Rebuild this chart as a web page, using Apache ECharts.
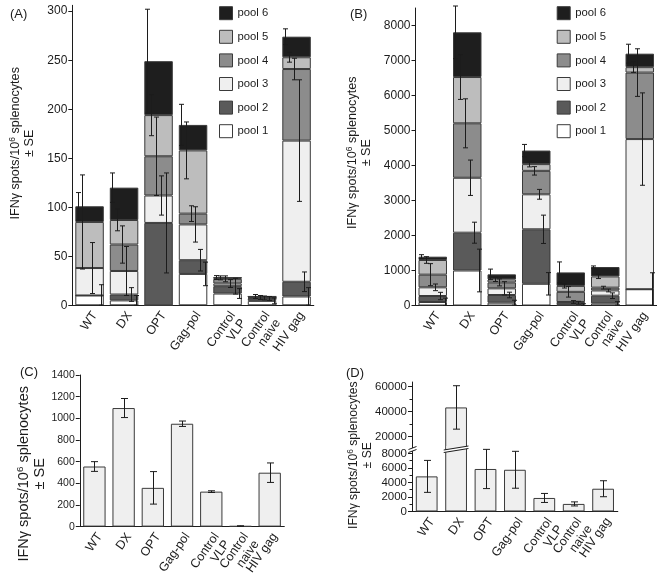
<!DOCTYPE html>
<html><head><meta charset="utf-8">
<script src="https://cdn.jsdelivr.net/npm/echarts@6/dist/echarts.min.js"></script>
<style>html,body{margin:0;padding:0;background:#fff}#c{width:657px;height:581px}</style>
</head><body><div id="c"></div>
<script>
// ---------- data ----------
const categories = ['WT', 'DX', 'OPT', 'Gag-pol', 'Control\nVLP', 'Control\nnaive', 'HIV gag'];
const poolNames = ['pool 1', 'pool 2', 'pool 3', 'pool 4', 'pool 5', 'pool 6'];

// Panel A: stacked pools (spots / 10^6 splenocytes)
const aPool1 = [10, 5, 0, 32, 12, 4.5, 9];
const aPool2 = [0, 6, 84, 14, 7.5, 2.5, 15];
const aPool3 = [28, 24, 28, 36.5, 2.7, 0.5, 144];
const aPool4 = [0, 27, 40, 11, 4.8, 0.5, 73];
const aPool5 = [47, 25, 42, 64.5, 1, 1, 12];
const aPool6 = [16, 33, 55, 26, 0.3, 0, 21];
const aErr1 = [11, 5, 0, 12, 5, 3, 9];
const aErr2 = [0, 7, 51, 11, 8, 2, 10];
const aErr3 = [26, 25, 20, 18, 4, 2, 62];
const aErr4 = [0, 19, 40, 8, 3, 2, 11];
const aErr5 = [48, 11, 21, 29, 2, 2, 5];
const aErr6 = [14, 15, 53, 21, 2, 1, 8];

// Panel B: stacked pools
const bPool1 = [100, 1000, 80, 620, 20, 60, 465];
const bPool2 = [171, 1080, 220, 1557, 60, 220, 0];
const bPool3 = [248, 1570, 190, 1000, 20, 150, 4290];
const bPool4 = [362, 1555, 170, 670, 290, 80, 1900];
const bPool5 = [419, 1323, 85, 193, 170, 320, 155];
const bPool6 = [95, 1277, 145, 387, 385, 270, 385];
const bErr1 = [110, 610, 70, 320, 30, 50, 470];
const bErr2 = [105, 300, 80, 405, 40, 80, 0];
const bErr3 = [95, 505, 190, 140, 40, 40, 1320];
const bErr4 = [315, 700, 100, 120, 150, 40, 680];
const bErr5 = [95, 640, 60, 80, 60, 60, 150];
const bErr6 = [57, 752, 150, 175, 300, 30, 270];

// Panel C
const cValues = [555, 1095, 358, 950, 323, 5, 498];
const cErrors = [45, 88, 150, 25, 8, 3, 90];

// Panel D
const dValues = [4830, 43300, 5850, 5740, 1860, 1040, 3130];
const dErrors = [2200, 17500, 2700, 2540, 620, 280, 1100];

// tick labels
const aTicks = [0, 50, 100, 150, 200, 250, 300];
const bTicks = [0, 1000, 2000, 3000, 4000, 5000, 6000, 7000, 8000];
const dLowTicks = [0, 2000, 4000, 6000, 8000];
const dLowMinor = [1000, 3000, 5000, 7000];
const dHighTicks = [20000, 40000, 60000];
const dHighMinor = [30000, 50000];

// ---------- styles ----------
const FONT = '"Liberation Sans", Arial, Helvetica, sans-serif';
const INK = '#1c1c1c';
const EDGE = '#3a3a3a';
const poolColors = ['#ffffff', '#5a5a5a', '#efefef', '#8c8c8c', '#bdbdbd', '#1e1e1e'];
const LIGHT = '#efefef';
const AB_GAP = 0.174, C_GAP = 0.236, D_GAP = 0.26;
const D_LOW_MAX = 8600, D_HIGH_MIN = 9800, D_HIGH_MAX = 63800;

const chart = echarts.init(document.getElementById('c'), null, {renderer: 'canvas'});

function yName(fs, lh, gap, padding) {
  return {
    name: '{n|IFNγ spots/10}{s|6}{n| splenocytes}\n{n|± SE}',
    nameLocation: 'middle',
    nameRotate: 90,
    nameGap: gap,
    nameTextStyle: {
      color: INK, fontFamily: FONT, fontSize: fs, lineHeight: lh, padding: padding,
      rich: {
        n: {fontSize: fs, fontFamily: FONT, color: INK, lineHeight: lh},
        s: {fontSize: fs * 0.68, fontFamily: FONT, color: INK, lineHeight: fs * 0.75, verticalAlign: 'top'}
      }
    }
  };
}
const plain = v => String(v);
function valAxis(gridIndex, min, max, ticks, labelSize, extra) {
  return Object.assign({
    type: 'value', gridIndex, min, max,
    axisLine: {show: true, lineStyle: {color: INK, width: 1}},
    axisTick: {show: true, length: 4, lineStyle: {color: INK}, customValues: ticks},
    axisLabel: {color: INK, fontFamily: FONT, fontSize: labelSize, margin: 5, customValues: ticks, formatter: plain},
    splitLine: {show: false}
  }, extra || {});
}
function catAxis(gridIndex) {
  return {
    type: 'category', gridIndex, data: categories,
    axisLine: {show: true, lineStyle: {color: INK, width: 1}},
    axisTick: {show: false},
    axisLabel: {rotate: 55, interval: 0, color: INK, fontFamily: FONT, fontSize: 12.5, lineHeight: 13,
      margin: 4, verticalAlign: 'top'}
  };
}

// stacked bars
function stackSeries(pools, stack, axisIndex) {
  return pools.map((arr, k) => ({
    type: 'bar', name: poolNames[k], stack, xAxisIndex: axisIndex, yAxisIndex: axisIndex,
    data: arr, barCategoryGap: (AB_GAP * 100) + '%',
    itemStyle: {color: poolColors[k], borderColor: EDGE, borderWidth: 1},
    emphasis: {disabled: true}, silent: true, animation: false
  }));
}
function stackErrData(pools, errs) {
  const out = [];
  categories.forEach((c, i) => {
    let cum = 0;
    pools.forEach((arr, k) => {
      cum += arr[i];
      if (arr[i] > 0 && errs[k][i] > 0) out.push([i, k, cum, errs[k][i]]);
    });
  });
  return out;
}
function ln(x1, y1, x2, y2, color, w) {
  return {type: 'line', shape: {x1, y1, x2, y2}, style: {stroke: color || INK, lineWidth: w || 1}};
}
function stackErrRender(params, api) {
  const cat = api.value(0), k = api.value(1), top = api.value(2), err = api.value(3);
  const band = api.size([1, 0])[0];
  const barW = band * (1 - AB_GAP);
  const off = (2.5 - k) * barW / 6;
  const x = Math.round(api.coord([cat, top])[0] + off) + 0.5;
  const yHi = api.coord([cat, top + err])[1];
  const yLo = api.coord([cat, Math.max(0, top - err)])[1];
  const cap = 2.5;
  return {type: 'group', children: [
    ln(x, yHi, x, yLo), ln(x - cap, yHi, x + cap, yHi), ln(x - cap, yLo, x + cap, yLo)
  ]};
}
function simpleErrRender(params, api) {
  const cat = api.value(0), v = api.value(1), err = api.value(2);
  const x = Math.round(api.coord([cat, v])[0]) + 0.5;
  const yHi = api.coord([cat, v + err])[1];
  const yLo = api.coord([cat, Math.max(0, v - err)])[1];
  const cap = 3.5;
  return {type: 'group', children: [
    ln(x, yHi, x, yLo), ln(x - cap, yHi, x + cap, yHi), ln(x - cap, yLo, x + cap, yLo)
  ]};
}

const aPools = [aPool1, aPool2, aPool3, aPool4, aPool5, aPool6];
const aErrs = [aErr1, aErr2, aErr3, aErr4, aErr5, aErr6];
const bPools = [bPool1, bPool2, bPool3, bPool4, bPool5, bPool6];
const bErrs = [bErr1, bErr2, bErr3, bErr4, bErr5, bErr6];

const legendBase = {
  orient: 'vertical', data: poolNames.slice().reverse(), icon: 'rect', padding: 0,
  itemWidth: 13, itemHeight: 13, itemGap: 9.6, itemStyle: {borderColor: EDGE, borderWidth: 1},
  textStyle: {color: INK, fontFamily: FONT, fontSize: 11.3}, selectedMode: false
};

const option = {
  backgroundColor: '#fff',
  animation: false,
  textStyle: {fontFamily: FONT},
  legend: [
    Object.assign({left: 219, top: 6.2}, legendBase),
    Object.assign({left: 556.7, top: 6.2}, legendBase)
  ],
  grid: [
    {left: 72.3, top: 5.3, width: 241.5, height: 300},        // A
    {left: 415.5, top: 8, width: 241.5, height: 297.5},       // B
    {left: 79.8, top: 375, width: 204.5, height: 151.7},      // C
    {left: 412, top: 449, width: 205.8, height: 78.3},        // D lower
    {left: 412, top: 382, width: 205.8, height: 67}           // D upper
  ],
  xAxis: [catAxis(0), catAxis(1), catAxis(2), catAxis(3),
    Object.assign(catAxis(4), {axisLine: {show: false}, axisLabel: {show: false}})],
  yAxis: [
    Object.assign(valAxis(0, 0, 306, aTicks, 12), yName(12.6, 14, 36, [0, 0, 0, 24])),
    Object.assign(valAxis(1, 0, 8500, bTicks, 12), yName(12.6, 14, 42, [0, 0, 0, 8])),
    Object.assign(valAxis(2, 0, 1400, null, 10.5, {interval: 200}), yName(14.5, 16, 31, [0, 46, 0, 0])),
    Object.assign(valAxis(3, 0, D_LOW_MAX, dLowTicks, 11.5), yName(12.2, 13.5, 38, [0, 0, 0, 50])),
    valAxis(4, D_HIGH_MIN, D_HIGH_MAX, dHighTicks, 11.5),
    {type: 'value', gridIndex: 3, position: 'left', min: 0, max: D_LOW_MAX, axisLine: {show: false},
      axisLabel: {show: false}, splitLine: {show: false},
      axisTick: {show: true, length: 2.5, lineStyle: {color: INK}, customValues: dLowMinor}},
    {type: 'value', gridIndex: 4, position: 'left', min: D_HIGH_MIN, max: D_HIGH_MAX, axisLine: {show: false},
      axisLabel: {show: false}, splitLine: {show: false},
      axisTick: {show: true, length: 2.5, lineStyle: {color: INK}, customValues: dHighMinor}}
  ],
  series: [
    ...stackSeries(aPools, 'A', 0),
    ...stackSeries(bPools, 'B', 1),
    {type: 'custom', xAxisIndex: 0, yAxisIndex: 0, renderItem: stackErrRender,
      data: stackErrData(aPools, aErrs), encode: {x: 0, y: 2}, z: 10, silent: true},
    {type: 'custom', xAxisIndex: 1, yAxisIndex: 1, renderItem: stackErrRender,
      data: stackErrData(bPools, bErrs), encode: {x: 0, y: 2}, z: 10, silent: true},
    {type: 'bar', xAxisIndex: 2, yAxisIndex: 2, data: cValues, barCategoryGap: (C_GAP * 100) + '%',
      itemStyle: {color: LIGHT, borderColor: EDGE, borderWidth: 1}, silent: true},
    {type: 'custom', xAxisIndex: 2, yAxisIndex: 2, renderItem: simpleErrRender,
      data: cValues.map((v, i) => [i, v, cErrors[i]]), encode: {x: 0, y: 1}, z: 10, silent: true},
    {type: 'bar', xAxisIndex: 3, yAxisIndex: 3, data: dValues, barCategoryGap: (D_GAP * 100) + '%',
      itemStyle: {color: LIGHT, borderColor: EDGE, borderWidth: 1}, silent: true, clip: true},
    {type: 'bar', xAxisIndex: 4, yAxisIndex: 4, data: dValues.map(v => v >= D_HIGH_MIN ? v : '-'),
      barCategoryGap: (D_GAP * 100) + '%',
      itemStyle: {color: LIGHT, borderColor: EDGE, borderWidth: 1}, silent: true, clip: true},
    {type: 'custom', xAxisIndex: 3, yAxisIndex: 3, renderItem: simpleErrRender,
      data: dValues.map((v, i) => [i, v, dErrors[i]]).filter(d => d[1] <= D_LOW_MAX), encode: {x: 0, y: 1}, z: 10, silent: true},
    {type: 'custom', xAxisIndex: 4, yAxisIndex: 4, renderItem: simpleErrRender,
      data: dValues.map((v, i) => [i, v, dErrors[i]]).filter(d => d[1] >= D_HIGH_MIN), encode: {x: 0, y: 1}, z: 10, silent: true}
  ]
};
chart.setOption(option);

// ---------- panel letters + axis break decorations ----------
const letterStyle = {fill: INK, font: '13px ' + FONT};
const graphics = [
  {type: 'text', left: 10, top: 8, style: Object.assign({text: '(A)'}, letterStyle)},
  {type: 'text', left: 350, top: 8, style: Object.assign({text: '(B)'}, letterStyle)},
  {type: 'text', left: 20, top: 366, style: Object.assign({text: '(C)'}, letterStyle)},
  {type: 'text', left: 346, top: 367, style: Object.assign({text: '(D)'}, letterStyle)}
];
// break across bars exceeding the lower D axis
const p0 = chart.convertToPixel({gridIndex: 3}, [0, D_LOW_MAX]);
const p1 = chart.convertToPixel({gridIndex: 3}, [1, D_LOW_MAX]);
const band = p1[0] - p0[0];
const barW = band * (1 - D_GAP);
const yb = p0[1];
dValues.forEach((v, i) => {
  if (v <= D_LOW_MAX) return;
  const cx = chart.convertToPixel({gridIndex: 3}, [i, D_LOW_MAX])[0];
  const xl = cx - barW / 2, xr = cx + barW / 2;
  graphics.push({type: 'rect', z: 100, shape: {x: xl + 1, y: yb - 3, width: barW - 2, height: 6}, style: {fill: LIGHT}});
  graphics.push({type: 'polygon', z: 101, shape: {points: [[xl - 1.5, yb + 1], [xr + 1.5, yb - 3], [xr + 1.5, yb - 0.5], [xl - 1.5, yb + 3.5]]}, style: {fill: '#fff'}});
  graphics.push({type: 'line', z: 102, shape: {x1: xl - 1.5, y1: yb + 1, x2: xr + 1.5, y2: yb - 3}, style: {stroke: INK, lineWidth: 1}});
  graphics.push({type: 'line', z: 102, shape: {x1: xl - 1.5, y1: yb + 3.5, x2: xr + 1.5, y2: yb - 0.5}, style: {stroke: INK, lineWidth: 1}});
});
// break mark on the D value axis
const ax = chart.convertToPixel({gridIndex: 3}, [0, 0]);
const axX = Math.round(ax[0] - band / 2) + 0.5;
graphics.push({type: 'polygon', z: 101, shape: {points: [[axX - 4, yb + 0.5], [axX + 4, yb - 2.5], [axX + 4, yb + 0.5], [axX - 4, yb + 3.5]]}, style: {fill: '#fff'}});
graphics.push({type: 'line', z: 102, shape: {x1: axX - 4, y1: yb + 0.5, x2: axX + 4, y2: yb - 2.5}, style: {stroke: INK, lineWidth: 1}});
graphics.push({type: 'line', z: 102, shape: {x1: axX - 4, y1: yb + 3.5, x2: axX + 4, y2: yb + 0.5}, style: {stroke: INK, lineWidth: 1}});
chart.setOption({graphic: graphics});
</script>
</body></html>
